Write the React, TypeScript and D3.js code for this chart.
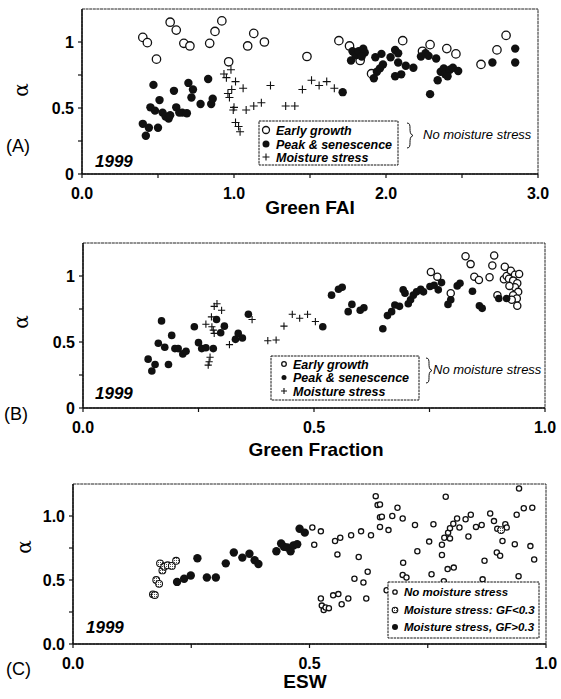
import React from 'react';
import * as d3 from 'd3';

// ---- data ----
const earlyA: [number, number][] = [
  [0.40, 1.035], [0.43, 0.995], [0.49, 0.87], [0.58, 1.15], [0.62, 1.09], [0.67, 0.99], [0.71, 0.97],
  [0.84, 0.99], [0.875, 1.08], [0.92, 1.16], [0.965, 0.85], [1.09, 0.97], [1.13, 1.065], [1.20, 1.0],
  [1.48, 0.89], [1.69, 1.01], [1.76, 0.97], [1.83, 0.86], [1.905, 0.76], [2.11, 1.01], [2.24, 0.93],
  [2.29, 0.98], [2.40, 0.95], [2.46, 0.91], [2.625, 0.83], [2.73, 0.94], [2.79, 1.05],
];
const peakA: [number, number][] = [
  [0.40, 0.38], [0.42, 0.29], [0.44, 0.35], [0.45, 0.505], [0.47, 0.675], [0.48, 0.48], [0.50, 0.35],
  [0.51, 0.56], [0.53, 0.465], [0.55, 0.435], [0.57, 0.42], [0.58, 0.445], [0.605, 0.63], [0.62, 0.505],
  [0.64, 0.465], [0.66, 0.465], [0.69, 0.46], [0.70, 0.69], [0.72, 0.58], [0.73, 0.64], [0.78, 0.53],
  [0.83, 0.72], [0.85, 0.53], [0.86, 0.57], [1.715, 0.62],
  [1.78, 0.93], [1.77, 0.86], [1.80, 0.90], [1.82, 0.93], [1.85, 0.95], [1.86, 0.92], [1.84, 0.89],
  [1.93, 0.885], [1.97, 0.91], [2.03, 0.885], [2.06, 0.94], [2.08, 0.915], [1.98, 0.83], [1.96, 0.80],
  [1.94, 0.775], [1.92, 0.725], [2.08, 0.845], [2.10, 0.755], [2.06, 0.74], [2.13, 0.82], [2.18, 0.805],
  [2.23, 0.89], [2.26, 0.915], [2.28, 0.895], [2.33, 0.875], [2.29, 0.605], [2.34, 0.71], [2.36, 0.775],
  [2.38, 0.80], [2.39, 0.755], [2.42, 0.79], [2.44, 0.805], [2.475, 0.78], [2.405, 0.74], [2.70, 0.845],
  [2.85, 0.95], [2.85, 0.845],
];
const stressA: [number, number][] = [
  [0.934, 0.758], [0.95, 0.73], [0.98, 0.79], [1.01, 0.70], [0.96, 0.61], [0.985, 0.64], [0.97, 0.58],
  [0.995, 0.485], [1.0, 0.505], [1.01, 0.39], [1.03, 0.36], [1.04, 0.32], [1.06, 0.65], [1.08, 0.485],
  [1.13, 0.515], [1.18, 0.54], [1.24, 0.67], [1.34, 0.515], [1.40, 0.515], [1.45, 0.64], [1.51, 0.71],
  [1.56, 0.67], [1.61, 0.70], [1.66, 0.65],
];

const earlyB: [number, number][] = [
  [0.753, 1.03], [0.767, 0.995], [0.796, 0.87], [0.828, 1.15], [0.839, 1.09], [0.847, 0.995], [0.857, 0.97],
  [0.88, 0.99], [0.886, 1.08], [0.89, 1.155], [0.897, 0.855], [0.913, 1.07], [0.911, 0.975], [0.917, 1.0],
  [0.926, 1.04], [0.935, 1.01], [0.944, 1.015], [0.922, 0.98], [0.931, 0.965], [0.94, 0.945], [0.935, 0.915],
  [0.923, 0.925], [0.942, 0.88], [0.931, 0.855], [0.939, 0.83], [0.928, 0.82], [0.94, 0.775],
];
const peakB: [number, number][] = [
  [0.141, 0.37], [0.149, 0.28], [0.156, 0.33], [0.163, 0.49], [0.170, 0.66], [0.177, 0.46], [0.185, 0.33],
  [0.192, 0.55], [0.199, 0.45], [0.206, 0.45], [0.216, 0.41], [0.223, 0.43], [0.241, 0.615], [0.25, 0.495],
  [0.257, 0.45], [0.266, 0.457], [0.282, 0.45], [0.289, 0.67], [0.298, 0.57], [0.306, 0.62], [0.33, 0.52],
  [0.336, 0.565], [0.345, 0.53], [0.358, 0.71], [0.519, 0.615],
  [0.538, 0.855], [0.553, 0.90], [0.561, 0.915], [0.574, 0.73], [0.582, 0.785], [0.60, 0.74], [0.608, 0.76],
  [0.649, 0.60], [0.659, 0.70], [0.668, 0.73], [0.675, 0.78], [0.685, 0.77], [0.693, 0.895], [0.697, 0.87],
  [0.704, 0.79], [0.709, 0.82], [0.715, 0.855], [0.722, 0.88], [0.731, 0.90], [0.737, 0.88], [0.751, 0.92],
  [0.76, 0.93], [0.769, 0.895], [0.776, 0.95], [0.79, 0.785], [0.796, 0.82], [0.81, 0.925], [0.816, 0.945],
  [0.843, 0.885], [0.858, 0.775], [0.864, 0.755], [0.90, 0.83], [0.917, 0.83],
];
const stressB: [number, number][] = [
  [0.266, 0.635], [0.278, 0.69], [0.284, 0.77], [0.29, 0.79], [0.30, 0.74], [0.279, 0.615], [0.282, 0.59],
  [0.284, 0.565], [0.273, 0.35], [0.271, 0.325], [0.275, 0.385], [0.317, 0.48], [0.366, 0.67], [0.40, 0.51],
  [0.418, 0.515], [0.435, 0.62], [0.453, 0.71], [0.469, 0.68], [0.486, 0.71], [0.503, 0.655],
];

const noStressC: [number, number][] = [
  [0.506, 0.91], [0.524, 0.88], [0.51, 0.775], [0.554, 0.805], [0.565, 0.83], [0.559, 0.70], [0.588, 0.85],
  [0.609, 0.88], [0.63, 0.85], [0.604, 0.68], [0.64, 1.155], [0.644, 1.085], [0.649, 1.09], [0.649, 0.99],
  [0.653, 0.995], [0.649, 0.915], [0.667, 0.89], [0.675, 1.0], [0.686, 1.065], [0.697, 0.98], [0.723, 0.93],
  [0.762, 0.935], [0.788, 1.15], [0.728, 0.725], [0.753, 0.80], [0.78, 0.775], [0.78, 0.695], [0.785, 0.83],
  [0.797, 0.825], [0.793, 0.87], [0.797, 0.905], [0.804, 0.94], [0.812, 0.98], [0.817, 0.91], [0.83, 0.975],
  [0.841, 1.01], [0.836, 0.84], [0.852, 0.915], [0.864, 0.93], [0.882, 1.02], [0.89, 0.96], [0.897, 0.90],
  [0.908, 0.805], [0.896, 0.715], [0.903, 0.69], [0.87, 0.65], [0.914, 0.935], [0.917, 0.91], [0.698, 0.635],
  [0.697, 0.54], [0.705, 0.52], [0.758, 0.545], [0.792, 0.585], [0.805, 0.597], [0.623, 0.565], [0.595, 0.51],
  [0.614, 0.48], [0.663, 0.42], [0.62, 0.355], [0.582, 0.355], [0.568, 0.31], [0.55, 0.38], [0.561, 0.39],
  [0.524, 0.355], [0.526, 0.30], [0.53, 0.265], [0.534, 0.285], [0.541, 0.28], [0.866, 0.505], [0.943, 1.215],
  [0.953, 1.06], [0.971, 1.065], [0.938, 1.01], [0.934, 0.78], [0.967, 0.765], [0.975, 0.66], [0.942, 0.53],
  [0.784, 0.49],
];
const lowGfC: [number, number][] = [
  [0.169, 0.388], [0.173, 0.383], [0.176, 0.50], [0.182, 0.47], [0.184, 0.63], [0.189, 0.575],
  [0.193, 0.605], [0.20, 0.615], [0.209, 0.61], [0.218, 0.65], [0.905, 0.89],
];
const highGfC: [number, number][] = [
  [0.22, 0.485], [0.235, 0.51], [0.249, 0.535], [0.263, 0.67], [0.283, 0.52], [0.302, 0.52], [0.323, 0.63],
  [0.34, 0.715], [0.358, 0.675], [0.373, 0.705], [0.384, 0.655], [0.392, 0.625], [0.43, 0.725], [0.44, 0.785],
  [0.446, 0.76], [0.453, 0.755], [0.46, 0.725], [0.466, 0.77], [0.474, 0.78], [0.479, 0.90], [0.49, 0.87],
];

const xTicksA = [0, 1, 2, 3];
const xMinorA = [0.5, 1.5, 2.5];
const xTicksBC = [0, 0.5, 1];
const xMinorBC = [0.25, 0.75];
const yTicks = [0, 0.5, 1];
const yMinor = [0.25, 0.75];

const FONT = 'Liberation Sans, Arial, Helvetica, sans-serif';

type Series = { data: [number, number][]; kind: 'open' | 'filled' | 'plus' | 'gray'; r: number };

function Marker({ kind, x, y, r }: { kind: string; x: number; y: number; r: number }) {
  if (kind === 'plus')
    return <path d={`M${x - r},${y}H${x + r}M${x},${y - r}V${y + r}`} stroke="#111" strokeWidth={1.1} />;
  if (kind === 'open')
    return <circle cx={x} cy={y} r={r} fill="#fff" stroke="#111" strokeWidth={1.3} />;
  if (kind === 'gray')
    return <circle cx={x} cy={y} r={r} fill="url(#dots)" stroke="#111" strokeWidth={1.1} />;
  return <circle cx={x} cy={y} r={r} fill="#111" />;
}

function brace(x: number, y1: number, y2: number, w: number) {
  const m = (y1 + y2) / 2;
  return `M${x},${y1} C${x + w},${y1} ${x},${m - 2} ${x + w},${m} C${x},${m + 2} ${x + w},${y2} ${x},${y2}`;
}

interface PanelProps {
  left: number; right: number; top: number; bottom: number;
  xMax: number; xTicks: number[]; xMinor: number[]; xFmt: (v: number) => string; yFmt: (v: number) => string;
  yLabelRight: number; series: Series[];
  xTitle: string; xTitleX: number; xTitleY: number; tickLabelY: number;
  tag: string; tagX: number; tagY: number; alphaX: number; alphaY: number;
  yearX: number; yearY: number;
  legend: { x: number; y: number; w: number; h: number; symX: number; textX: number; rows: number[]; size: number;
    items: { kind: string; r: number; label: string }[] };
  note?: { braceX: number; y1: number; y2: number; textX: number; textY: number };
}

function Panel(p: PanelProps) {
  const x = d3.scaleLinear().domain([0, p.xMax]).range([p.left, p.right]);
  const y = d3.scaleLinear().domain([0, 1.25]).range([p.bottom, p.top]);
  const L = p.legend;
  return (
    <g>
      <rect x={p.left} y={p.top} width={p.right - p.left} height={p.bottom - p.top} fill="none" stroke="#222" strokeWidth={1} strokeDasharray="3 0.6" />
      <line x1={p.left} x2={p.left} y1={p.top} y2={p.bottom} stroke="#111" strokeWidth={1.5} />
      <line x1={p.left} x2={p.right} y1={p.bottom} y2={p.bottom} stroke="#111" strokeWidth={1.5} />
      {p.xTicks.concat(p.xMinor).map((t) => (
        <line key={'xt' + t} x1={x(t)} x2={x(t)} y1={p.bottom} y2={p.bottom + 4} stroke="#111" strokeWidth={1.2} />
      ))}
      {yTicks.concat(yMinor).map((t) => (
        <line key={'yt' + t} x1={p.left - 4} x2={p.left} y1={y(t)} y2={y(t)} stroke="#111" strokeWidth={1.2} />
      ))}
      {p.xTicks.map((t) => (
        <text key={'xl' + t} x={x(t)} y={p.tickLabelY} textAnchor="middle" fontSize={16} fontWeight="bold" fontFamily={FONT}>
          {p.xFmt(t)}
        </text>
      ))}
      {yTicks.map((t) => (
        <text key={'yl' + t} x={p.yLabelRight} y={y(t) + 6} textAnchor="end" fontSize={16} fontWeight="bold" fontFamily={FONT}>
          {p.yFmt(t)}
        </text>
      ))}
      <text x={p.xTitleX} y={p.xTitleY} textAnchor="middle" fontSize={19} fontWeight="bold" fontFamily={FONT}>{p.xTitle}</text>
      <text transform={`translate(${p.alphaX},${p.alphaY}) rotate(-90)`} textAnchor="middle" fontSize={20} fontFamily="DejaVu Serif, serif">α</text>
      <text x={p.tagX} y={p.tagY} fontSize={18} fontFamily={FONT}>{p.tag}</text>
      <text x={p.yearX} y={p.yearY} fontSize={17} fontWeight="bold" fontStyle="italic" fontFamily={FONT}>1999</text>

      {p.series.map((s, i) => (
        <g key={'s' + i}>
          {s.data.map((d, j) => <Marker key={j} kind={s.kind} x={x(d[0])} y={y(d[1])} r={s.r} />)}
        </g>
      ))}

      <rect x={L.x} y={L.y} width={L.w} height={L.h} fill="#fff" stroke="#111" strokeWidth={1} strokeDasharray="2.5 0.8" />
      {L.items.map((it, i) => (
        <g key={'lg' + i}>
          <Marker kind={it.kind} x={L.symX} y={L.rows[i]} r={it.r} />
          <text x={L.textX} y={L.rows[i] + L.size * 0.36} fontSize={L.size} fontWeight="bold" fontStyle="italic" fontFamily={FONT}>{it.label}</text>
        </g>
      ))}
      {p.note && (
        <g>
          <path d={brace(p.note.braceX, p.note.y1, p.note.y2, 6)} fill="none" stroke="#111" strokeWidth={1} />
          <text x={p.note.textX} y={p.note.textY} fontSize={13} fontStyle="italic" fontFamily={FONT}>No moisture stress</text>
        </g>
      )}
    </g>
  );
}

export default function App() {
  const f1 = (v: number) => v.toFixed(1);
  const fy = (v: number) => (v === 0 ? '0' : v === 1 ? '1' : '0.5');
  return (
    <svg width={561} height={699} style={{ position: 'absolute', left: 0, top: 0, background: '#fff' }}>
      <defs>
        <pattern id="dots" width={2} height={2} patternUnits="userSpaceOnUse">
          <rect width={2} height={2} fill="#fff" />
          <rect width={1} height={1} fill="#555" />
        </pattern>
      </defs>
      <rect width={561} height={699} fill="#fff" />
      <Panel
        left={82} right={538} top={9} bottom={174} xMax={3} xTicks={xTicksA} xMinor={xMinorA} xFmt={f1} yFmt={fy}
        yLabelRight={74} tickLabelY={199} xTitle="Green FAI" xTitleX={310} xTitleY={214}
        tag="(A)" tagX={6} tagY={152} alphaX={28} alphaY={90} yearX={95} yearY={167}
        series={[
          { data: earlyA, kind: 'open', r: 4.2 },
          { data: stressA, kind: 'plus', r: 4 },
          { data: peakA, kind: 'filled', r: 4.2 },
        ]}
        legend={{ x: 259, y: 121, w: 139, h: 44, symX: 266, textX: 276, rows: [130, 144, 157], size: 12.5,
          items: [
            { kind: 'open', r: 3.5, label: 'Early growth' },
            { kind: 'filled', r: 3.5, label: 'Peak & senescence' },
            { kind: 'plus', r: 3.5, label: 'Moisture stress' },
          ] }}
        note={{ braceX: 407, y1: 123, y2: 148, textX: 423, textY: 139 }}
      />
      <Panel
        left={83} right={545} top={243} bottom={408} xMax={1} xTicks={xTicksBC} xMinor={xMinorBC} xFmt={f1} yFmt={fy}
        yLabelRight={75} tickLabelY={433} xTitle="Green Fraction" xTitleX={316} xTitleY={456}
        tag="(B)" tagX={4} tagY={420} alphaX={28} alphaY={322} yearX={95} yearY={399}
        series={[
          { data: earlyB, kind: 'open', r: 3.6 },
          { data: stressB, kind: 'plus', r: 3.6 },
          { data: peakB, kind: 'filled', r: 3.8 },
        ]}
        legend={{ x: 271, y: 356, w: 148, h: 44, symX: 284, textX: 293, rows: [364, 377.5, 391], size: 12.5,
          items: [
            { kind: 'open', r: 2.3, label: 'Early growth' },
            { kind: 'filled', r: 2.5, label: 'Peak & senescence' },
            { kind: 'plus', r: 3, label: 'Moisture stress' },
          ] }}
        note={{ braceX: 426, y1: 358, y2: 383, textX: 433, textY: 374 }}
      />
      <Panel
        left={73} right={546} top={484} bottom={644} xMax={1} xTicks={xTicksBC} xMinor={xMinorBC} xFmt={f1} yFmt={f1}
        yLabelRight={65} tickLabelY={669} xTitle="ESW" xTitleX={305} xTitleY={688}
        tag="(C)" tagX={6} tagY={675} alphaX={31} alphaY={547} yearX={86} yearY={633}
        series={[
          { data: noStressC, kind: 'open', r: 2.6 },
          { data: lowGfC, kind: 'gray', r: 3.4 },
          { data: highGfC, kind: 'filled', r: 4.2 },
        ]}
        legend={{ x: 388, y: 582, w: 151, h: 56, symX: 395, textX: 404, rows: [592, 610, 627], size: 11.5,
          items: [
            { kind: 'open', r: 2.2, label: 'No moisture stress' },
            { kind: 'gray', r: 2.8, label: 'Moisture stress: GF<0.3' },
            { kind: 'filled', r: 3, label: 'Moisture stress, GF>0.3' },
          ] }}
      />
    </svg>
  );
}
